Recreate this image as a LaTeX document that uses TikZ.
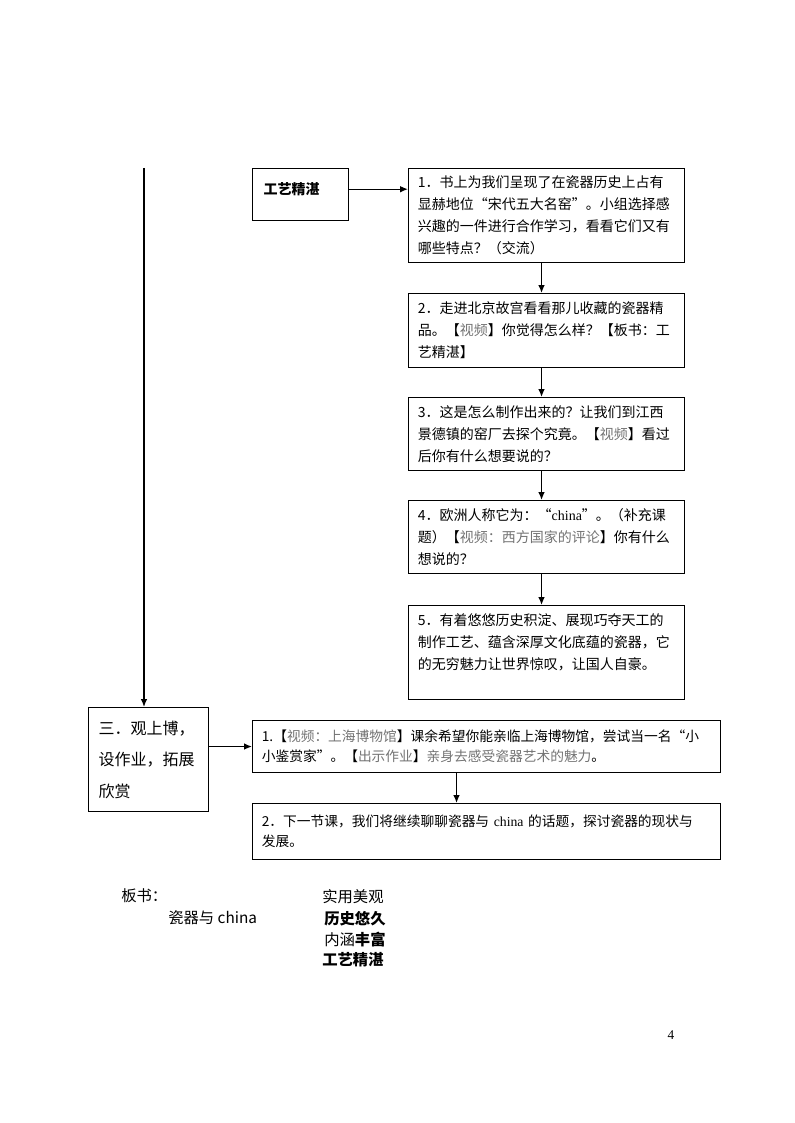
\documentclass[tikz,border=0pt]{standalone}
\usepackage{fontspec}
\setmainfont{Liberation Serif}
\newfontfamily\cjk{Noto Sans CJK SC}
\tikzset{stepbox/.style={draw, line width=0.8pt, anchor=north west, inner xsep=7pt, inner ysep=4pt,
      align=left, text width=193pt, font=\cjk\fontsize{10.5pt}{16.5pt}\selectfont}}
\tikzset{widebox/.style={stepbox, text width=337pt, font=\cjk\fontsize{10.3pt}{15pt}\selectfont}}
\tikzset{boardtext/.style={anchor=west, inner sep=0pt, font=\cjk\fontsize{11.5pt}{14pt}\selectfont}}
\tikzset{arr/.style={-{Latex[length=6pt,width=5pt]}, line width=1pt}}
\usetikzlibrary{arrows.meta}
\newcommand\hintgrey[1]{\textcolor{black!55}{#1}}

\begin{document}
\begin{tikzpicture}[x=0.75pt, y=-0.75pt]
    \useasboundingbox (0,0) rectangle (794,1123);
    \node[stepbox, text width=55.5pt, inner xsep=8.25pt, inner ysep=9.5pt, text height=10pt, text depth=10pt,
      font=\cjk\bfseries\fontsize{10.5pt}{16.5pt}\selectfont] (gongyi) at (252,168) {工艺精湛};
    \node[stepbox, minimum height=70.5pt] (step1) at (408,168)
      {1．书上为我们呈现了在瓷器历史上占有\\显赫地位“宋代五大名窑”。小组选择感\\兴趣的一件进行合作学习，看看它们又有\\哪些特点？（交流）};
    \node[stepbox, minimum height=55.5pt] (step2) at (408,293)
      {2．走进北京故宫看看那儿收藏的瓷器精\\品。【\hintgrey{视频}】你觉得怎么样？【板书：工\\艺精湛】};
    \node[stepbox, minimum height=55pt] (step3) at (408,397)
      {3．这是怎么制作出来的？让我们到江西\\景德镇的窑厂去探个究竟。【\hintgrey{视频}】看过\\后你有什么想要说的？};
    \node[stepbox, minimum height=55pt] (step4) at (408,500)
      {4．欧洲人称它为：“\textrm{china}”。（补充课\\题）【\hintgrey{视频：西方国家的评论}】你有什么\\想说的？};
    \node[stepbox, minimum height=70.5pt] (step5) at (408,605)
      {5．有着悠悠历史积淀、展现巧夺天工的\\制作工艺、蕴含深厚文化底蕴的瓷器，它\\的无穷魅力让世界惊叹，让国人自豪。\\ \mbox{}};
    \node[stepbox, text width=75pt, inner xsep=7.5pt, minimum height=78pt,
      font=\cjk\fontsize{12pt}{23.6pt}\selectfont] (san) at (88,707)
      {三．观上博，\\设作业，拓展\\欣赏};
    \node[widebox, minimum height=39pt] (end1) at (252,720)
      {1.【\hintgrey{视频：上海博物馆}】课余希望你能亲临上海博物馆，尝试当一名“小\\小鉴赏家”。【\hintgrey{出示作业}】\hintgrey{亲身去感受瓷器艺术的魅力}。};
    \node[widebox, minimum height=42pt] (end2) at (252,803)
      {2．下一节课，我们将继续聊聊瓷器与 \textrm{china} 的话题，探讨瓷器的现状与\\发展。};
    \coordinate (top) at (144,168);
    \draw[arr] (top) -- (top |- san.north);
    \draw[arr] ([yshift=4pt]gongyi.east) -- ([yshift=4pt]gongyi.east -| step1.west);
    \draw[arr] ([xshift=-3.75pt]step1.south) -- ([xshift=-3.75pt]step2.north);
    \draw[arr] ([xshift=-3.75pt]step2.south) -- ([xshift=-3.75pt]step3.north);
    \draw[arr] ([xshift=-3.75pt]step3.south) -- ([xshift=-3.75pt]step4.north);
    \draw[arr] ([xshift=-3.75pt]step4.south) -- ([xshift=-3.75pt]step5.north);
    \draw[arr] (san.east |- end1.west) -- (end1.west);
    \draw[arr] ([xshift=-22.5pt]end1.south) -- ([xshift=-22.5pt]end2.north);
    \node[boardtext] (board) at (121,896) {板书：};
    \node[boardtext] (topic) at (168,918) {瓷器与 china};
    \node[boardtext] (ban1) at (322,897) {实用美观};
    \node[boardtext, font=\cjk\bfseries\fontsize{11.5pt}{14pt}\selectfont] (ban2) at (324,919) {历史悠久};
    \node[boardtext] (ban3) at (324,940) {内涵\textbf{丰富}};
    \node[boardtext, font=\cjk\bfseries\fontsize{11.5pt}{14pt}\selectfont] (ban4) at (322,960) {工艺精湛};
    \node[font=\fontsize{10pt}{12pt}\selectfont] (page) at (671,1035) {4};
  \end{tikzpicture}
\end{document}
